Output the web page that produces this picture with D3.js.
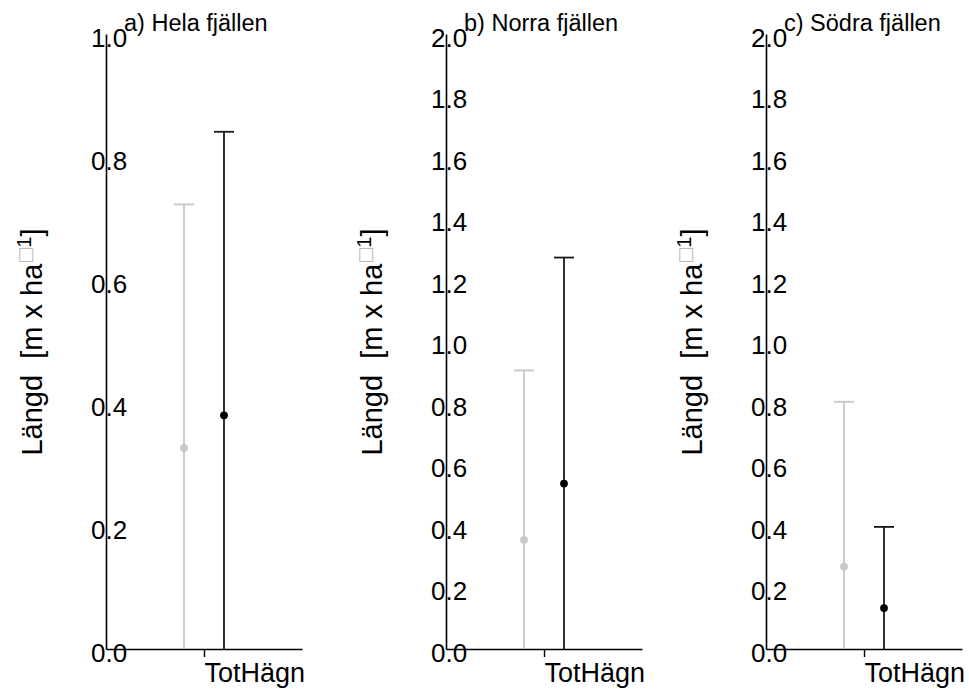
<!DOCTYPE html>
<html>
<head>
<meta charset="utf-8">
<script src="https://cdn.jsdelivr.net/npm/d3@7"></script>
<style>
  html, body { margin: 0; padding: 0; background: #fff; }
  svg { display: block; font-family: "Liberation Sans", Arial, sans-serif; }
  .ytitle { white-space: pre; }
</style>
</head>
<body>
<svg id="chart" width="969" height="689"></svg>
<script>
// ---- data ----
const panelTitles = ["a) Hela fjällen", "b) Norra fjällen", "c) Södra fjällen"];
const panelMax = [1.0, 2.0, 2.0];
const categories = ["TotHägn"];
const seriesNames = ["grå", "svart"];
const greyMean  = [0.327, 0.355, 0.268];
const greyUpper = [0.723, 0.906, 0.804];
const blackMean  = [0.380, 0.538, 0.133];
const blackUpper = [0.841, 1.273, 0.397];
const yTickStep = 0.2;
const yTitle = "Längd  [m x ha";

// ---- layout ----
const svg = d3.select("#chart");
const axisX = [106, 446, 766];
const plotW = 196;
const yBottom = 649, yTop = 34;
const colors = { "grå": "#c8c8c8", "svart": "#1a1a1a" };
const FONT = '"Liberation Sans", Arial, sans-serif';

panelTitles.forEach((title, i) => {
  const g = svg.append("g").attr("transform", `translate(${axisX[i]},0)`);
  const y = d3.scaleLinear().domain([0, panelMax[i]]).range([yBottom, yTop]);
  const x = d3.scalePoint().domain(categories).range([0, plotW]).padding(0.5);
  const off = d3.scalePoint().domain(seriesNames).range([-20, 20]);

  // y axis
  const ticks = d3.range(0, panelMax[i] + 1e-9, yTickStep);
  const yAxis = d3.axisLeft(y).tickValues(ticks).tickFormat(d3.format(".1f")).tickSize(0).tickSizeOuter(0);
  const ya = g.append("g").call(yAxis);
  ya.select(".domain").attr("stroke", "#000").attr("stroke-width", 1.6);
  ya.selectAll(".tick text")
    .attr("x", -15).attr("dy", "0.36em").attr("y", 3)
    .attr("text-anchor", "start")
    .attr("font-size", 26).attr("font-family", FONT).attr("fill", "#000");

  // x axis
  const xAxis = d3.axisBottom(x).tickSize(8).tickSizeOuter(0);
  const xa = g.append("g").attr("transform", `translate(0,${yBottom})`).call(xAxis);
  xa.select(".domain").attr("stroke", "#000").attr("stroke-width", 1.6);
  xa.selectAll(".tick line").attr("stroke", "#000").attr("stroke-width", 1.4);
  xa.selectAll(".tick text")
    .attr("x", 0).attr("y", 33).attr("dy", 0)
    .attr("text-anchor", "start")
    .attr("font-size", 27).attr("font-family", FONT).attr("fill", "#000");

  // series
  const series = [
    { name: "grå", mean: greyMean[i], upper: greyUpper[i] },
    { name: "svart", mean: blackMean[i], upper: blackUpper[i] }
  ];
  series.forEach(s => {
    const cx = x(categories[0]) + off(s.name);
    const c = colors[s.name];
    g.append("line").attr("x1", cx).attr("x2", cx)
      .attr("y1", y(s.upper)).attr("y2", y(0))
      .attr("stroke", c).attr("stroke-width", 1.8);
    g.append("line").attr("x1", cx - 10).attr("x2", cx + 10)
      .attr("y1", y(s.upper)).attr("y2", y(s.upper))
      .attr("stroke", c).attr("stroke-width", 1.8);
    g.append("circle").attr("cx", cx).attr("cy", y(s.mean)).attr("r", 3.9)
      .attr("fill", s.name === "svart" ? "#000" : c);
  });

  // panel title
  g.append("text").attr("x", 18).attr("y", 31)
    .attr("font-size", 23.5).attr("font-family", FONT).attr("fill", "#000")
    .text(title);

  // y axis title
  const t = g.append("text").attr("class", "ytitle")
    .attr("transform", `translate(${-64},342) rotate(-90)`)
    .attr("text-anchor", "middle")
    .attr("font-size", 29).attr("font-family", FONT).attr("fill", "#000");
  t.append("tspan").text(yTitle);
  t.append("tspan").attr("dy", -11).attr("font-size", 18).attr("fill", "#bbb")
    .attr("font-family", "DejaVu Sans").text("□");
  t.append("tspan").attr("font-size", 20).attr("dx", -1).text("1");
  t.append("tspan").attr("dy", 11).text("]");
});
</script>
</body>
</html>
